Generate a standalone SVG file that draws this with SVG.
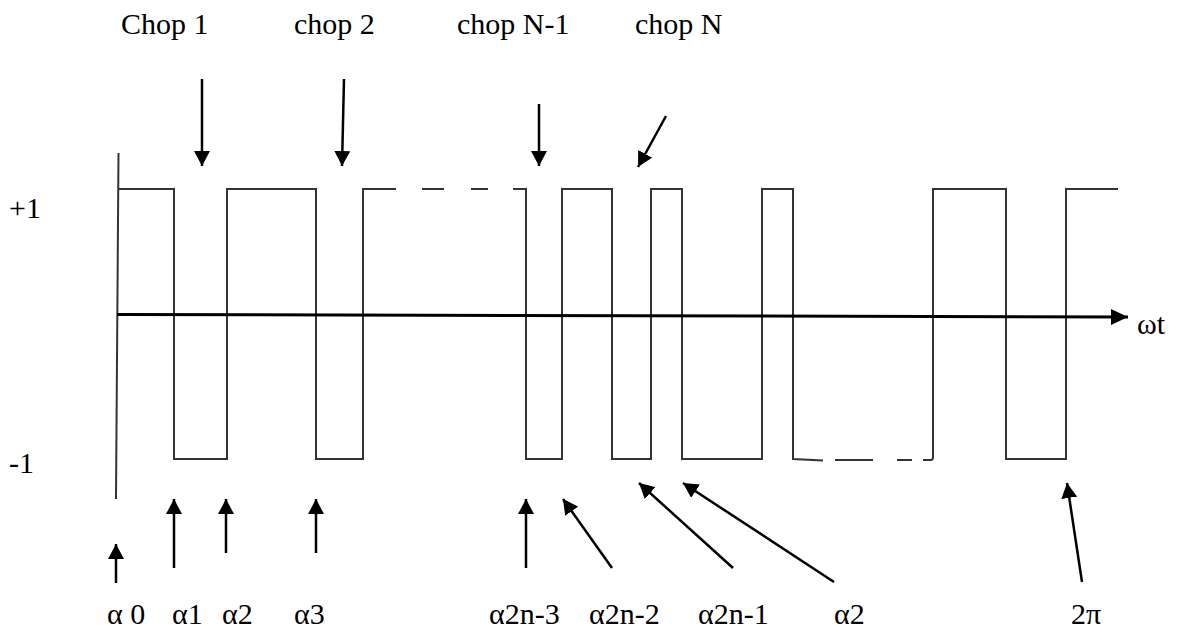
<svg xmlns="http://www.w3.org/2000/svg" width="1179" height="630" viewBox="0 0 1179 630">
<style>
  text { font-family: "Liberation Serif", "Times New Roman", Times, "DejaVu Serif", serif; font-size: 30px; fill: #000; }
  .wave { fill: none; stroke: #333; stroke-width: 2; stroke-linejoin: miter; }
  .arr { fill: none; stroke: #000; stroke-width: 2.5; marker-end: url(#head); }
  .axis { fill: none; stroke: #000; stroke-width: 3; marker-end: url(#bighead); }
</style>
<defs>
  <marker id="head" markerUnits="userSpaceOnUse" markerWidth="16" markerHeight="16" refX="15" refY="8" orient="auto" viewBox="0 0 16 16">
    <path d="M0,0 L15,8 L0,16 z" fill="#000"/>
  </marker>
  <marker id="bighead" markerUnits="userSpaceOnUse" markerWidth="18" markerHeight="18" refX="17" refY="9" orient="auto" viewBox="0 0 18 18">
    <path d="M0,1 L17,9 L0,17 z" fill="#000"/>
  </marker>
</defs>
<rect width="1179" height="630" fill="#fff"/>

<g id="waveform">
  <path class="wave" d="M118.5,153 L116,499"/>
  <path class="wave" d="M118,189 H174 V459 H227 V189 H316 V459 H363 V189 H396"/>
  <path class="wave" d="M422,189 H444 M471,189 H488"/>
  <path class="wave" d="M513,189 H526 V459 H562 V189 H612 V459 H651 V189 H682 V459 H762 V189 H793 V459 L823,460.5"/>
  <path class="wave" d="M835,460 H873 M897,460 H912"/>
  <path class="wave" d="M923,460 H931 Q933,460 933,457 V189 H1006 V459 H1066 V189 H1118"/>
</g>

<g id="axis" font-family="'Liberation Serif', serif">
  <path class="axis" d="M117,314.5 L1128,317"/>
  <text x="1137" y="334">ωt</text>
</g>

<g id="level-labels" font-family="'Liberation Serif', serif">
  <text x="9" y="218">+1</text>
  <text x="9" y="473">-1</text>
</g>

<g id="connectors">
  <path class="arr" d="M202,79 L202,166"/>
  <path class="arr" d="M344,79 L342,166"/>
  <path class="arr" d="M539,104 L539,166"/>
  <path class="arr" d="M666,116 L638,167"/>
  <path class="arr" d="M116,583 L116,544"/>
  <path class="arr" d="M174,568 L174,499"/>
  <path class="arr" d="M226,553 L226,499"/>
  <path class="arr" d="M316,553 L316,499"/>
  <path class="arr" d="M526,568 L526,499"/>
  <path class="arr" d="M612,568 L563,499"/>
  <path class="arr" d="M733,568 L639,483"/>
  <path class="arr" d="M834,582 L683,483"/>
  <path class="arr" d="M1082,582 L1067,483"/>
</g>

<g id="top-labels" font-family="'Liberation Serif', serif">
  <text x="121" y="34">Chop 1</text>
  <text x="294" y="34">chop 2</text>
  <text x="457" y="34">chop N-1</text>
  <text x="635" y="34">chop N</text>
</g>

<g id="bottom-labels" font-family="'Liberation Serif', serif">
  <text x="107" y="624">α 0</text>
  <text x="172" y="624">α1</text>
  <text x="222" y="624">α2</text>
  <text x="294" y="624">α3</text>
  <text x="489" y="624">α2n-3</text>
  <text x="589" y="624">α2n-2</text>
  <text x="698" y="624">α2n-1</text>
  <text x="834" y="624">α2</text>
  <text x="1071" y="624">2π</text>
</g>
</svg>
